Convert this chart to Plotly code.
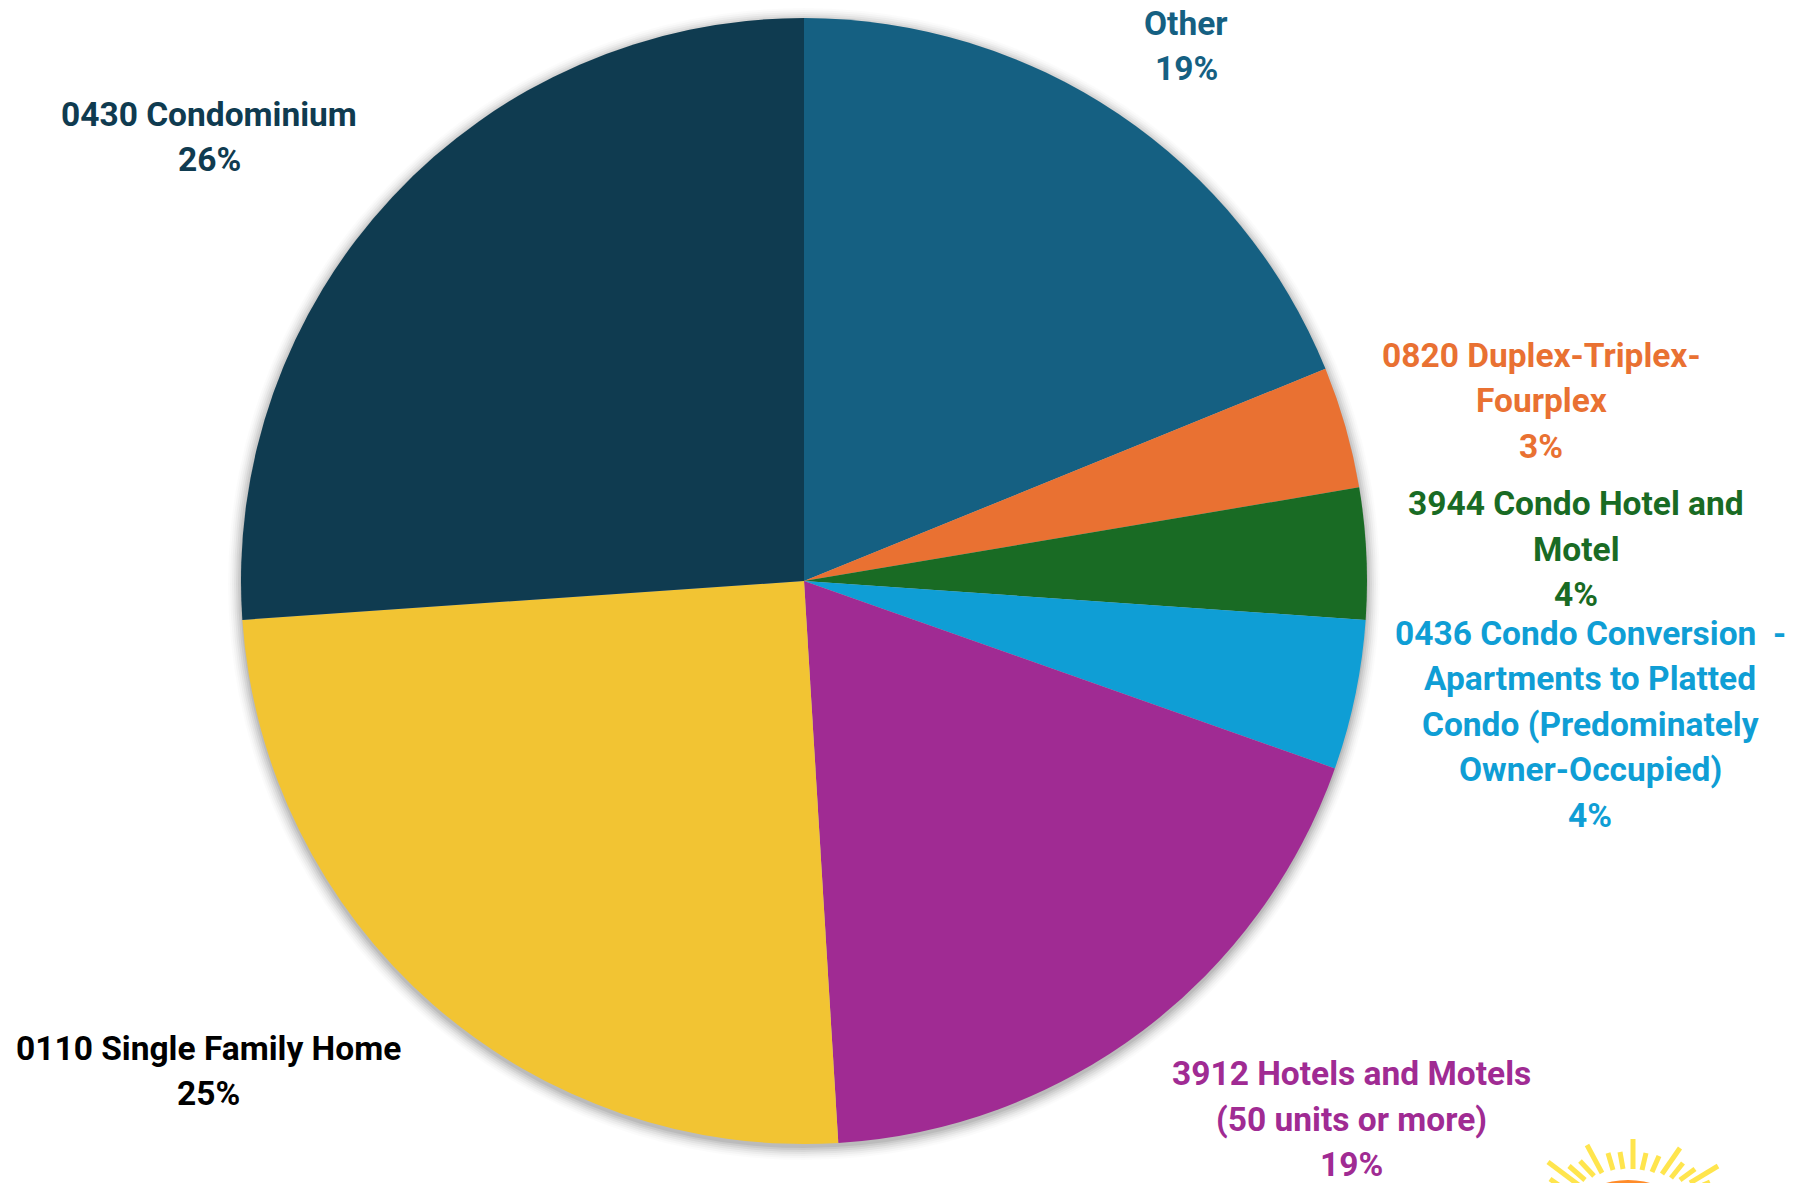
import plotly.graph_objects as go

# Share of properties by use code, clockwise from twelve o'clock
categories = [
    "Other",
    "0820 Duplex-Triplex-<br>Fourplex",
    "3944 Condo Hotel and<br>Motel",
    "0436 Condo Conversion  -<br>Apartments to Platted<br>Condo (Predominately<br>Owner-Occupied)",
    "3912 Hotels and Motels<br>(50 units or more)",
    "0110 Single Family Home",
    "0430 Condominium",
]
shares = [18.85, 3.49, 3.76, 4.3, 18.63, 24.87, 26.1]
slice_colors = ["#156082", "#E97132", "#196B24", "#0F9ED5", "#A02B93", "#F2C433", "#0F3B50"]
label_colors = ["#156082", "#E97132", "#196B24", "#0F9ED5", "#A02B93", "#000000", "#0F3B50"]

# Label anchor points in page pixels (centre of each text block)
label_centers = [
    (1186, 46), (1541, 401), (1576, 549), (1590, 724), (1351, 1119), (208, 1071), (209, 137),
]
LINE_STEP = 45.5

W, H = 1806, 1183
CX, CY, R = 804, 581, 563


def px(x):
    return x / W


def py(y):
    return 1 - y / H


fig = go.Figure(
    go.Pie(
        values=shares,
        labels=categories,
        sort=False,
        direction="clockwise",
        rotation=0,
        marker=dict(colors=slice_colors, line=dict(width=0)),
        textinfo="none",
        hoverinfo="label+percent",
        domain=dict(x=[px(CX - R), px(CX + R)], y=[py(CY + R), py(CY - R)]),
        showlegend=False,
    )
)

# Soft drop shadow under the pie, built from stacked translucent discs
shapes = []
for grow, alpha in [(13, 0.015), (11, 0.022), (9, 0.03), (7, 0.04), (5, 0.05), (3, 0.06), (1, 0.07)]:
    shapes.append(
        dict(
            type="circle", xref="paper", yref="paper", layer="below",
            x0=px(CX - R - grow), x1=px(CX + R + grow),
            y0=py(CY + 3 + R + grow), y1=py(CY + 3 - R - grow),
            fillcolor=f"rgba(0,0,0,{alpha})", line=dict(width=0),
        )
    )

# Sun emblem cut off by the bottom edge of the page
ray_segments = [
    ((1548, 1162), (1580, 1186)), ((1550, 1179), (1560, 1186)), ((1569, 1166), (1585, 1180)),
    ((1580, 1161), (1594, 1176)), ((1587, 1145), (1602, 1173)), ((1608, 1153), (1613, 1170)),
    ((1620, 1152), (1623, 1169)), ((1633, 1139), (1633, 1169)), ((1646, 1153), (1642, 1170)),
    ((1659, 1156), (1652, 1172)), ((1680, 1148), (1662, 1174)), ((1683, 1163), (1671, 1178)),
    ((1695, 1169), (1680, 1180)), ((1718, 1166), (1690, 1183)), ((1710, 1182), (1703, 1185)),
]
for (x0, y0), (x1, y1) in ray_segments:
    shapes.append(
        dict(
            type="line", xref="paper", yref="paper", layer="above",
            x0=px(x0), y0=py(y0), x1=px(x1), y1=py(y1),
            line=dict(color="#FFE54D", width=5),
        )
    )
shapes.append(
    dict(
        type="circle", xref="paper", yref="paper", layer="above",
        x0=px(1546), x1=px(1710), y0=py(1344), y1=py(1180),
        fillcolor="#FF8C2A", line=dict(width=0),
    )
)

# Each label line is its own annotation so the line pitch can be set freely
annotations = []
for name, value, color, (x, y) in zip(categories, shares, label_colors, label_centers):
    lines = name.split("<br>") + [f"{round(value)}%"]
    top = y - LINE_STEP * (len(lines) - 1) / 2
    for i, line in enumerate(lines):
        annotations.append(
            dict(
                x=px(x), y=py(top + i * LINE_STEP), xref="paper", yref="paper",
                xanchor="center", yanchor="middle", align="center",
                text=f"<b>{line}</b>",
                showarrow=False,
                font=dict(family="Roboto", size=33.5, color=color),
            )
        )

fig.update_layout(
    width=W, height=H,
    margin=dict(l=0, r=0, t=0, b=0),
    paper_bgcolor="white",
    plot_bgcolor="white",
    shapes=shapes,
    annotations=annotations,
)
fig.write_html("out.html", config=dict(displayModeBar=False))
